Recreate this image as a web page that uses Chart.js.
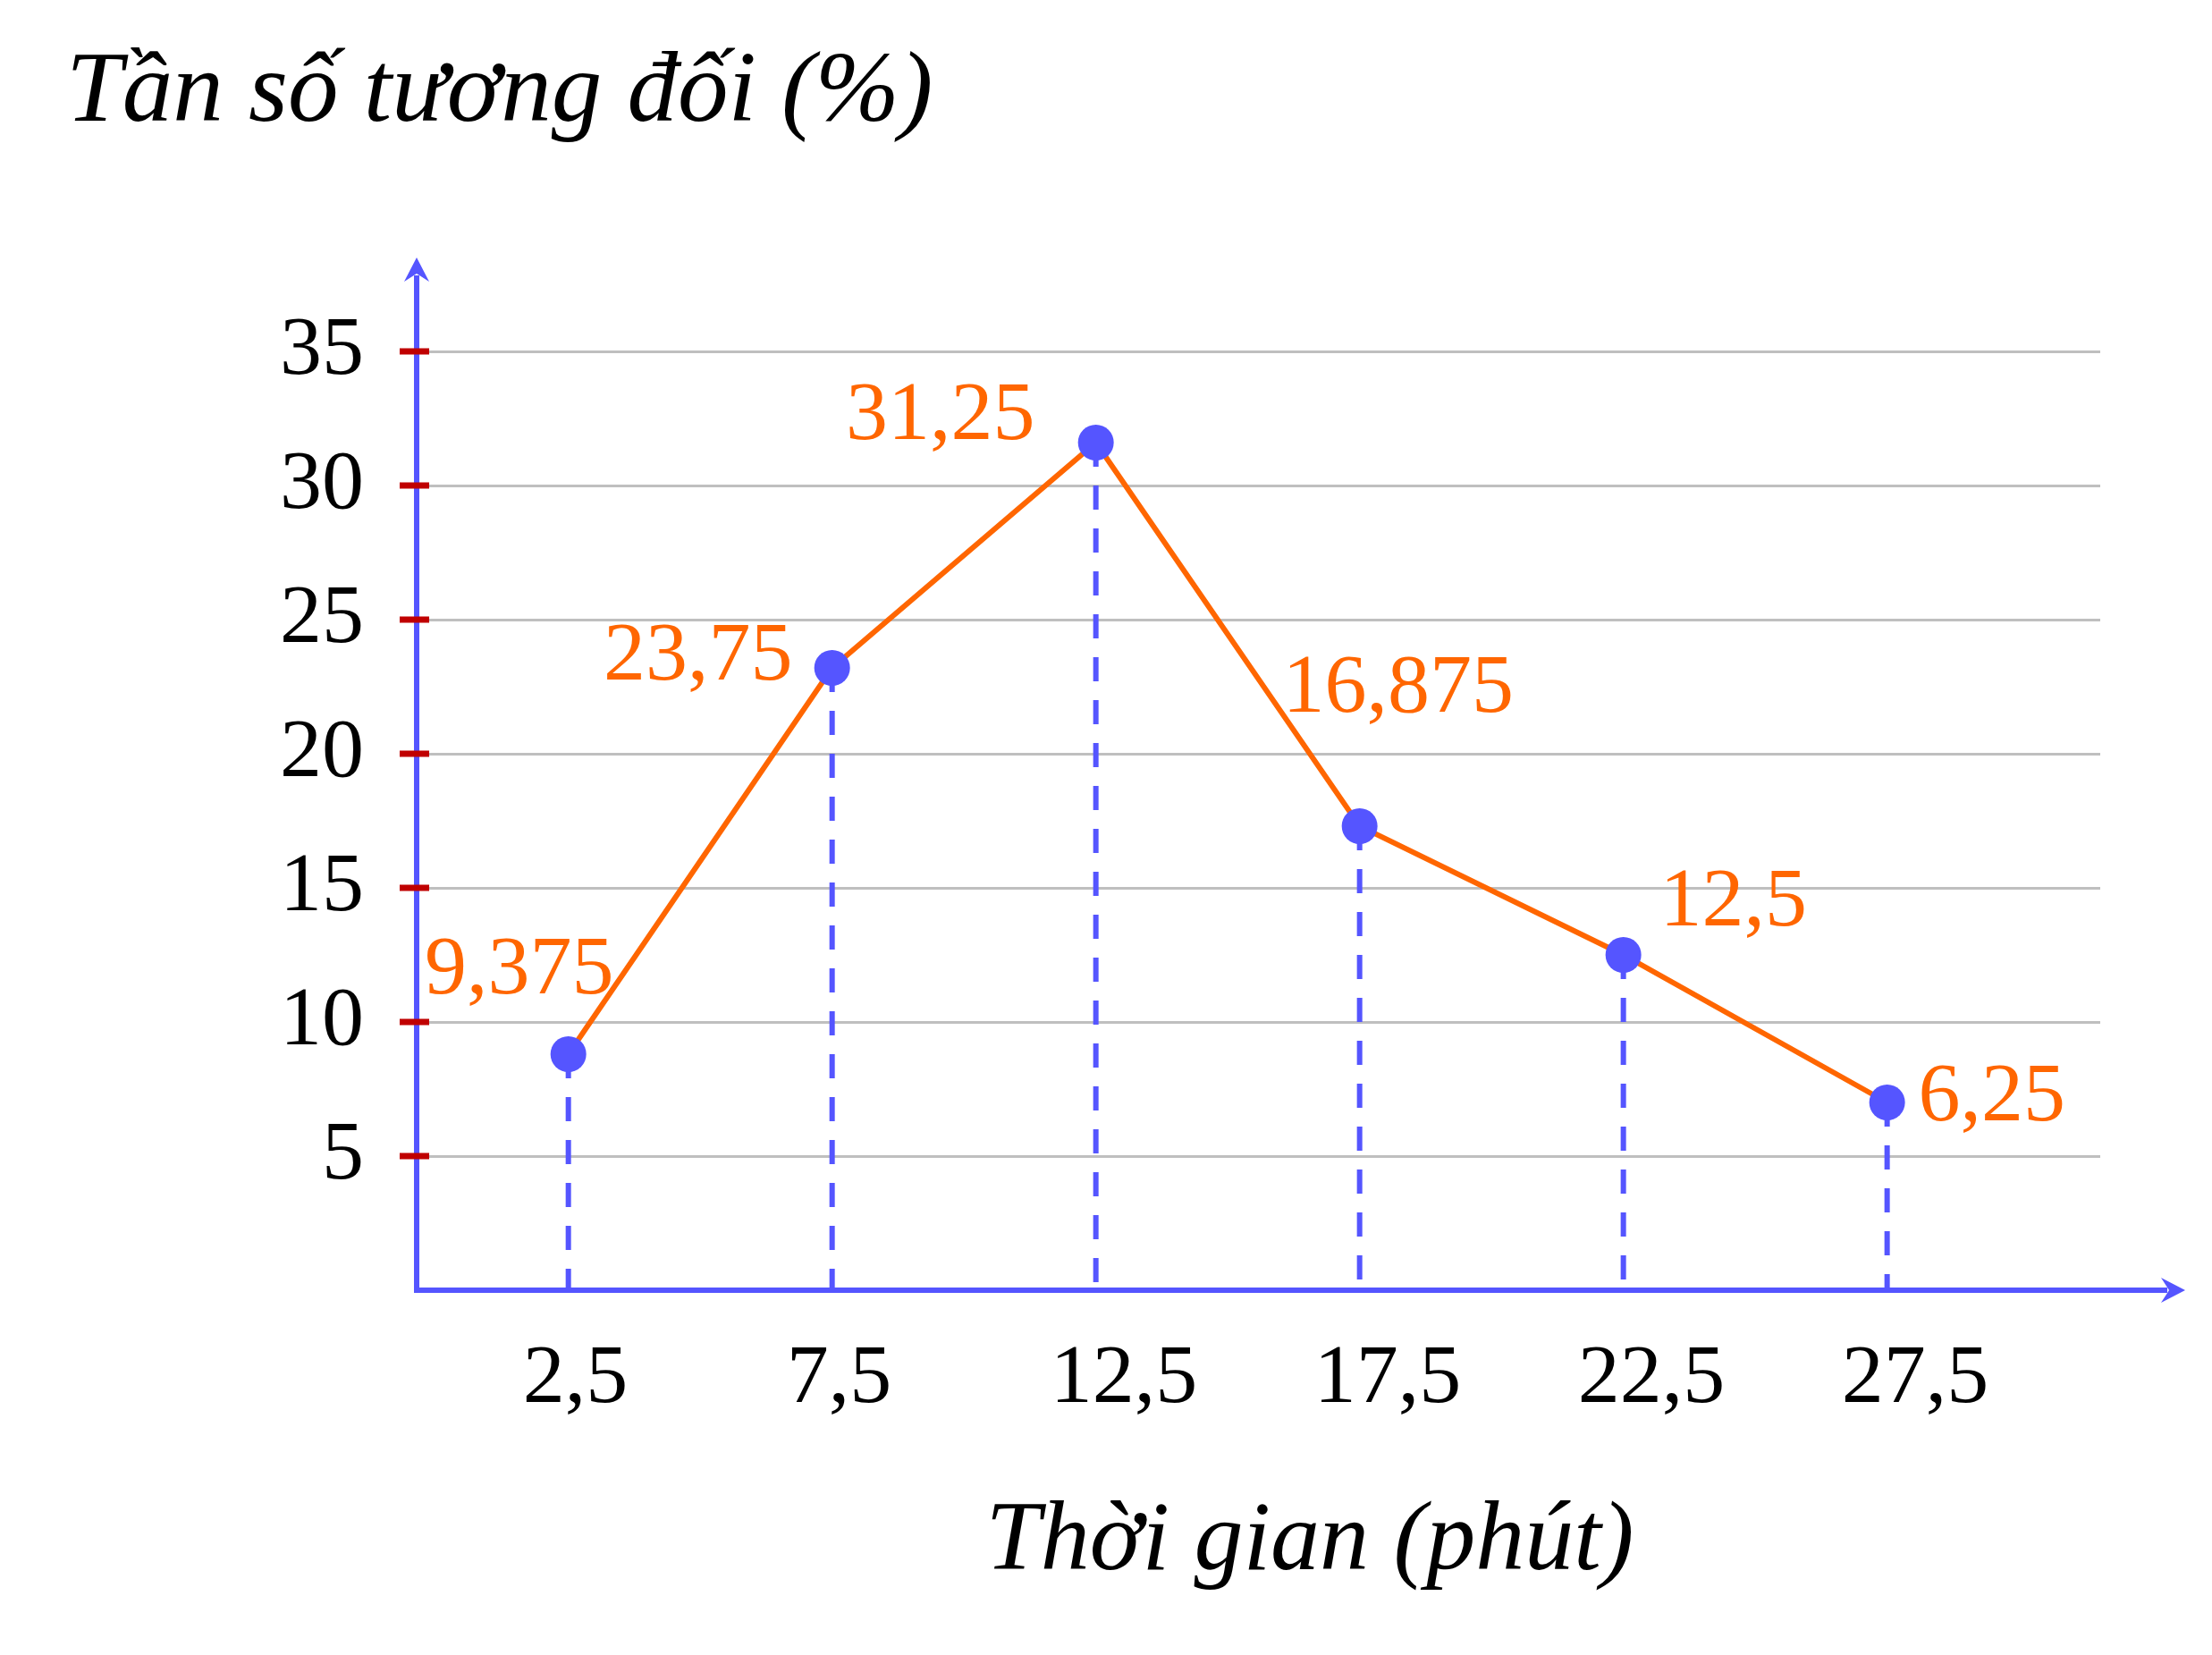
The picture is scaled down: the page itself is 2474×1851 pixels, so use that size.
<!DOCTYPE html>
<html lang="vi">
<head>
<meta charset="utf-8">
<title>Tần số tương đối</title>
<script src="https://cdn.jsdelivr.net/npm/chart.js@4.4.1/dist/chart.umd.min.js"></script>
<style>
    html, body { margin: 0; padding: 0; background: #fff; }
    #wrap { width: 2474px; height: 1851px; }
</style>
</head>
<body>
<div id="wrap"><canvas id="chart" width="2474" height="1851"></canvas></div>
<script>
// data
const timeMidpoints = [2.5, 7.5, 12.5, 17.5, 22.5, 27.5];
const plottedHeights = [8.8, 23.2, 31.6, 17.3, 12.5, 7.0];
const valueLabels = ['9,375', '23,75', '31,25', '16,875', '12,5', '6,25'];
const yTicks = [5, 10, 15, 20, 25, 30, 35];
const xTitle = 'Thời gian (phút)';
const yTitle = 'Tần số tương đối (%)';

const AXIS_BLUE = '#5555FF';
const ORANGE = '#FF6600';
const TICK_RED = '#C00000';
const GRID_GREY = '#BFBFBF';
const SERIF = '"Liberation Serif", "DejaVu Serif", serif';

// where each value label sits, relative to its point (px)
const labelOffsets = [[-55, -93], [-150, -12], [-174, -29], [43, -153], [123, -58], [117, -5]];

const decorations = {
    id: 'decorations',
    beforeDatasetsDraw(chart) {
        const { ctx, scales: { x, y } } = chart;
        const x0 = chart.chartArea.left;
        const y0 = y.getPixelForValue(0);
        const yTop = chart.chartArea.top;
        const xEnd = chart.chartArea.right + 95;
        ctx.save();

        // dashed drop lines
        ctx.strokeStyle = AXIS_BLUE;
        ctx.lineWidth = 6;
        ctx.setLineDash([27, 21]);
        timeMidpoints.forEach((t, i) => {
            const px = x.getPixelForValue(t);
            const py = y.getPixelForValue(plottedHeights[i]);
            ctx.beginPath();
            ctx.moveTo(px, py);
            ctx.lineTo(px, y0);
            ctx.stroke();
        });
        ctx.setLineDash([]);

        // axes
        ctx.beginPath();
        ctx.moveTo(x0, y0 + 3);
        ctx.lineTo(x0, yTop + 20);
        ctx.moveTo(x0 - 3, y0);
        ctx.lineTo(xEnd - 20, y0);
        ctx.stroke();

        // arrow heads
        ctx.fillStyle = AXIS_BLUE;
        ctx.beginPath();
        ctx.moveTo(x0, yTop);
        ctx.lineTo(x0 + 14, yTop + 27);
        ctx.lineTo(x0, yTop + 18);
        ctx.lineTo(x0 - 14, yTop + 27);
        ctx.closePath();
        ctx.fill();
        ctx.beginPath();
        ctx.moveTo(xEnd, y0);
        ctx.lineTo(xEnd - 27, y0 + 14);
        ctx.lineTo(xEnd - 18, y0);
        ctx.lineTo(xEnd - 27, y0 - 14);
        ctx.closePath();
        ctx.fill();

        // red tick marks on the y axis
        ctx.fillStyle = TICK_RED;
        yTicks.forEach(v => {
            const py = y.getPixelForValue(v);
            ctx.fillRect(x0 - 19, py - 3.5, 33, 7);
        });
        ctx.restore();
    },
    afterDatasetsDraw(chart) {
        const { ctx, scales: { x, y } } = chart;
        ctx.save();

        ctx.fillStyle = ORANGE;
        ctx.font = `94px ${SERIF}`;
        ctx.textAlign = 'center';
        ctx.textBaseline = 'middle';
        valueLabels.forEach((txt, i) => {
            const px = x.getPixelForValue(timeMidpoints[i]);
            const py = y.getPixelForValue(plottedHeights[i]);
            ctx.fillText(txt, px + labelOffsets[i][0], py + labelOffsets[i][1]);
        });

        ctx.fillStyle = '#000';
        ctx.textBaseline = 'alphabetic';
        ctx.textAlign = 'left';
        ctx.font = `italic 113px ${SERIF}`;
        ctx.fillText(yTitle, 74, 135);
        ctx.textAlign = 'center';
        ctx.font = `italic 110px ${SERIF}`;
        ctx.fillText(xTitle, 1465, 1755);
        ctx.restore();
    }
};

new Chart(document.getElementById('chart'), {
    type: 'scatter',
    data: {
        datasets: [{
            data: timeMidpoints.map((t, i) => ({ x: t, y: plottedHeights[i] })),
            showLine: true,
            borderColor: ORANGE,
            borderWidth: 6,
            pointRadius: 20,
            pointBackgroundColor: AXIS_BLUE,
            pointBorderWidth: 0,
            tension: 0
        }]
    },
    options: {
        responsive: false,
        animation: false,
        devicePixelRatio: 1,
        layout: { padding: { top: 288, right: 125, bottom: 0, left: 0 } },
        plugins: {
            legend: { display: false },
            tooltip: { enabled: false }
        },
        scales: {
            x: {
                type: 'linear',
                min: -0.376,
                max: 31.54,
                afterBuildTicks: s => { s.ticks = timeMidpoints.map(v => ({ value: v })); },
                afterFit: s => { s.height = 408; },
                grid: { display: false, drawTicks: false },
                border: { display: false },
                ticks: {
                    font: { family: SERIF, size: 94 },
                    color: '#000',
                    padding: 44,
                    align: 'start',
                    labelOffset: -51,
                    maxRotation: 0,
                    autoSkip: false,
                    callback: v => String(v).replace('.', ',')
                }
            },
            y: {
                min: 0,
                max: 38.5,
                afterBuildTicks: s => { s.ticks = yTicks.map(v => ({ value: v })); },
                afterFit: s => { s.width = 466; },
                grid: { color: GRID_GREY, lineWidth: 3, drawTicks: false },
                border: { display: false },
                ticks: {
                    font: { family: SERIF, size: 94 },
                    color: '#000',
                    padding: 59
                }
            }
        }
    },
    plugins: [decorations]
});
</script>
</body>
</html>
